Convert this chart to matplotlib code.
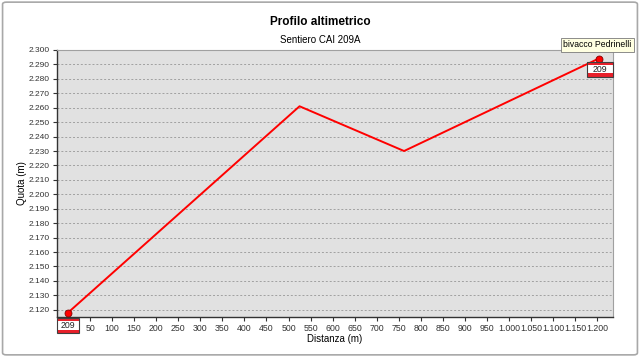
"""Profilo altimetrico - Sentiero CAI 209A."""

import matplotlib.pyplot as plt
import matplotlib.patches as mpatches
from matplotlib.transforms import IdentityTransform
from matplotlib.ticker import FuncFormatter

plt.rcParams["font.family"] = ["Liberation Sans", "DejaVu Sans"]

# distance (m) and elevation (m)
distanza = [0, 525, 762, 1203]
quota = [2118, 2261, 2230, 2294]

x_ticks = list(range(50, 1201, 50))
y_ticks = list(range(2120, 2301, 10))

sentiero = "209"
arrivo = "bivacco Pedrinelli"


def fmt_it(v, pos=None):
    return f"{int(round(v)):,}".replace(",", ".")


fig = plt.figure(figsize=(6.4, 3.57), dpi=100)
ax = fig.add_axes([0.089, 0.112, 0.869, 0.748])
ax.set_facecolor("#e1e1e1")

ax.plot(distanza, quota, color="#ff0000", lw=1.4, zorder=3)
ax.plot([distanza[0], distanza[-1]], [quota[0], quota[-1]], "o", ms=5,
        mfc="#ff0000", mec="#800000", mew=0.6, zorder=4)

ax.set_xlim(-25, 1236)
ax.set_ylim(2115, 2300)
ax.set_xticks(x_ticks)
ax.set_yticks(y_ticks)
ax.xaxis.set_major_formatter(FuncFormatter(fmt_it))
ax.yaxis.set_major_formatter(FuncFormatter(fmt_it))
ax.tick_params(labelsize=6.3, colors="#333333", length=3, width=0.8, pad=2)
ax.tick_params(axis="y", labelsize=6.0)
ax.grid(axis="y", color="#a0a0a0", ls=(0, (2, 2)), lw=0.7)
ax.set_axisbelow(True)
for s in ["top", "right"]:
    ax.spines[s].set_color("#a0a0a0")
for s in ["left", "bottom"]:
    ax.spines[s].set_color("#333333")
    ax.spines[s].set_linewidth(1.0)

ax.set_xlabel("Distanza (m)", fontsize=7, labelpad=1)
ax.set_ylabel("Quota (m)", fontsize=7)
ax.yaxis.set_label_coords(-0.054, 0.5)

fig.text(0.5, 0.939, "Profilo altimetrico", ha="center", va="center",
         fontsize=8.5, fontweight="bold")
fig.text(0.5, 0.888, "Sentiero CAI 209A", ha="center", va="center", fontsize=7)

# outer border
fig.add_artist(mpatches.FancyBboxPatch((0.004, 0.006), 0.992, 0.988,
               boxstyle="round,pad=0,rounding_size=0.006",
               transform=fig.transFigure, fc="none", ec="#a8a8a8", lw=1.2))

fig.canvas.draw()
H = fig.bbox.height


def trail_sign(x0, y_top, w, h):
    # box in pixel coords, y measured from top of image
    y0 = H - y_top - h
    tr = IdentityTransform()
    band = 3.2
    fig.add_artist(mpatches.Rectangle((x0, y0), w, h, transform=tr,
                                      fc="white", ec="none", zorder=10))
    fig.add_artist(mpatches.Rectangle((x0, y0), w, band, transform=tr,
                                      fc="#e8202a", ec="none", zorder=10))
    fig.add_artist(mpatches.Rectangle((x0, y0 + h - band), w, band, transform=tr,
                                      fc="#e8202a", ec="none", zorder=10))
    fig.add_artist(mpatches.Rectangle((x0, y0), w, h, transform=tr,
                                      fc="none", ec="#404040", lw=0.8, zorder=11))
    fig.text((x0 + w / 2) / fig.bbox.width, (y0 + h / 2) / H, sentiero,
             ha="center", va="center", fontsize=6.3, color="#222222", zorder=12)


px0, _ = ax.transData.transform((distanza[0], quota[0]))
px1, py1 = ax.transData.transform((distanza[-1], quota[-1]))
trail_sign(px0 - 11, 318, 22, 15)
trail_sign(px1 - 12, H - py1 + 3, 26, 15)

fig.text((px1 + 33) / fig.bbox.width, (py1 + 14) / H, arrivo, ha="right",
         va="center", fontsize=6.2,
         bbox=dict(boxstyle="square,pad=0.3", fc="#ffffe1", ec="#7a7a7a", lw=0.6))

fig.savefig("out.png", dpi=100)
